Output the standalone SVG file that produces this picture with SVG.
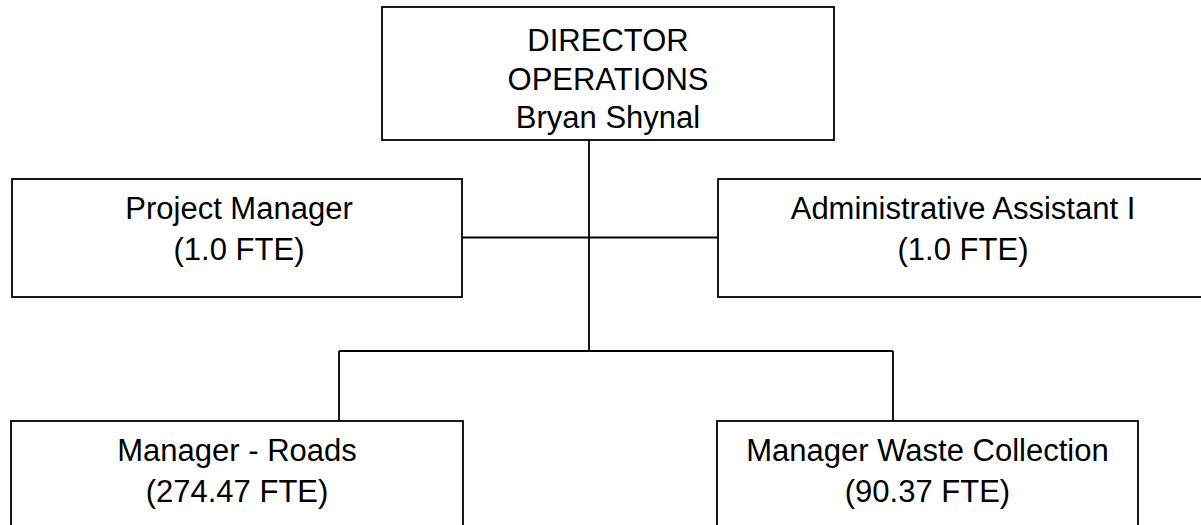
<svg xmlns="http://www.w3.org/2000/svg" width="1201" height="525" viewBox="0 0 1201 525">
<style>
.box{fill:#fff;stroke:#000;stroke-width:1.8}
.ln{stroke:#000;stroke-width:1.8;fill:none}
.t{font-family:"Liberation Sans",Arial,sans-serif;font-size:31px;fill:#000;text-anchor:middle}
</style>
<rect width="1201" height="525" fill="#fff"/>
<g id="connectors">
<line class="ln" x1="589" y1="140" x2="589" y2="351"/>
<line class="ln" x1="462" y1="237.5" x2="718" y2="237.5"/>
<line class="ln" x1="339" y1="351" x2="893" y2="351"/>
<line class="ln" x1="339" y1="351" x2="339" y2="421"/>
<line class="ln" x1="893" y1="351" x2="893" y2="421"/>
</g>
<g id="director">
<rect class="box" x="382" y="7" width="452" height="133"/>
<text class="t" x="608" y="51">DIRECTOR</text>
<text class="t" x="608" y="90">OPERATIONS</text>
<text class="t" x="608" y="128">Bryan Shynal</text>
</g>
<g id="project-manager">
<rect class="box" x="12" y="179" width="450" height="118"/>
<text class="t" x="239" y="219">Project Manager</text>
<text class="t" x="239" y="260">(1.0 FTE)</text>
</g>
<g id="admin-assistant">
<rect class="box" x="718" y="179" width="492" height="118"/>
<text class="t" x="963" y="219">Administrative Assistant I</text>
<text class="t" x="963" y="260">(1.0 FTE)</text>
</g>
<g id="manager-roads">
<rect class="box" x="11" y="421" width="452" height="130"/>
<text class="t" x="237" y="461">Manager - Roads</text>
<text class="t" x="237" y="502">(274.47 FTE)</text>
</g>
<g id="manager-waste">
<rect class="box" x="717" y="421" width="421" height="130"/>
<text class="t" x="927.5" y="461">Manager Waste Collection</text>
<text class="t" x="927.5" y="502">(90.37 FTE)</text>
</g>
</svg>
